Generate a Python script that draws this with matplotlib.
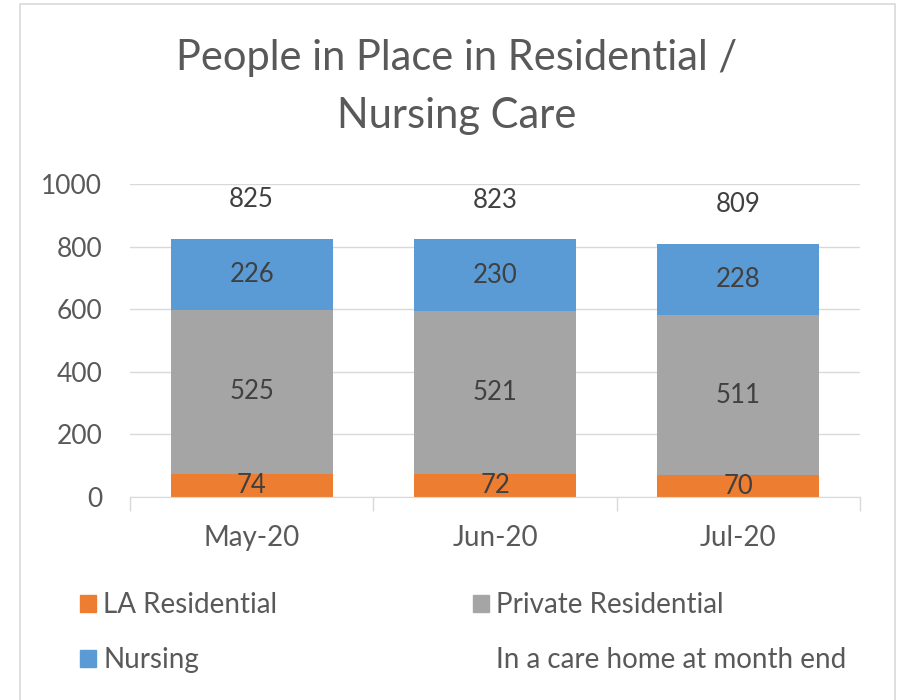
import matplotlib
matplotlib.use("Agg")
import matplotlib.pyplot as plt
from matplotlib.patches import Rectangle, Patch
from matplotlib.lines import Line2D
import numpy as np

plt.rcParams['font.family'] = ['Lato', 'DejaVu Sans']

categories = ["May-20", "Jun-20", "Jul-20"]
la_residential = [74, 72, 70]
private_residential = [525, 521, 511]
nursing = [226, 230, 228]
totals = [825, 823, 809]
series_names = ["LA Residential", "Private Residential", "Nursing", "In a care home at month end"]
colors = ["#ED7D31", "#A5A5A5", "#5B9BD5"]
y_ticks = [0, 200, 400, 600, 800, 1000]

fig = plt.figure(figsize=(9.01, 7.0), dpi=100)
ax = fig.add_axes([130/901, 1-497/700, 730/901, 313/700])

x = np.arange(len(categories))
w = 0.667
b1 = ax.bar(x, la_residential, w, color=colors[0], label=series_names[0], zorder=3)
b2 = ax.bar(x, private_residential, w, bottom=la_residential, color=colors[1], label=series_names[1], zorder=3)
bottom3 = np.array(la_residential) + np.array(private_residential)
b3 = ax.bar(x, nursing, w, bottom=bottom3, color=colors[2], label=series_names[2], zorder=3)
for bars in (b1, b2, b3):
    ax.bar_label(bars, label_type='center', fontsize=18.5, color='#404040')

tot_line, = ax.plot(x, totals, linestyle='none', marker=None, label=series_names[3])
for xi, t in zip(x, totals):
    ax.annotate(str(t), (xi, t), xytext=(0, 28), textcoords='offset points',
                ha='center', va='center', fontsize=18.5, color='#404040')

ax.set_xlim(-0.5, 2.5)
ax.set_ylim(0, 1000)
ax.set_yticks(y_ticks)
ax.set_yticklabels([str(v) for v in y_ticks], fontsize=19, color='#595959')
ax.set_xticks(x)
ax.set_xticklabels(categories, fontsize=20, color='#595959')
ax.set_xticks([-0.5, 0.5, 1.5, 2.5], minor=True)
ax.tick_params(axis='y', length=0, pad=20)
ax.tick_params(axis='x', which='major', length=0, pad=20)
ax.tick_params(axis='x', which='minor', length=10, color='#D9D9D9', width=1)
ax.grid(axis='y', color='#D9D9D9', linewidth=1, zorder=0)
for s in ['top', 'right', 'left']:
    ax.spines[s].set_visible(False)
ax.spines['bottom'].set_color('#D9D9D9')
ax.spines['bottom'].set_zorder(4)

fig.text(457/901, 1-58/700, "People in Place in Residential /", ha='center', va='center',
         fontsize=30, color='#595959')
fig.text(457/901, 1-116/700, "Nursing Care", ha='center', va='center',
         fontsize=30, color='#595959')

handles = [Patch(color=colors[0]), Patch(color=colors[1]), Patch(color=colors[2]),
           Line2D([], [], linestyle='none')]
leg = fig.legend([handles[0], handles[2], handles[1], handles[3]],
                 [series_names[0], series_names[2], series_names[1], series_names[3]],
                 ncol=2, loc='upper left', bbox_to_anchor=(80/901, 1-592/700),
                 frameon=False, fontsize=20, labelcolor='#595959',
                 handlelength=0.58, handleheight=0.58, handletextpad=0.25,
                 columnspacing=7.05, labelspacing=1.05, borderpad=0, borderaxespad=0)

fig.patches.append(Rectangle((20/901, -0.01), 875/901, 1.01 - 4/700, transform=fig.transFigure,
                             fill=False, edgecolor='#D9D9D9', linewidth=1.2))

fig.savefig("out.png", dpi=100)
